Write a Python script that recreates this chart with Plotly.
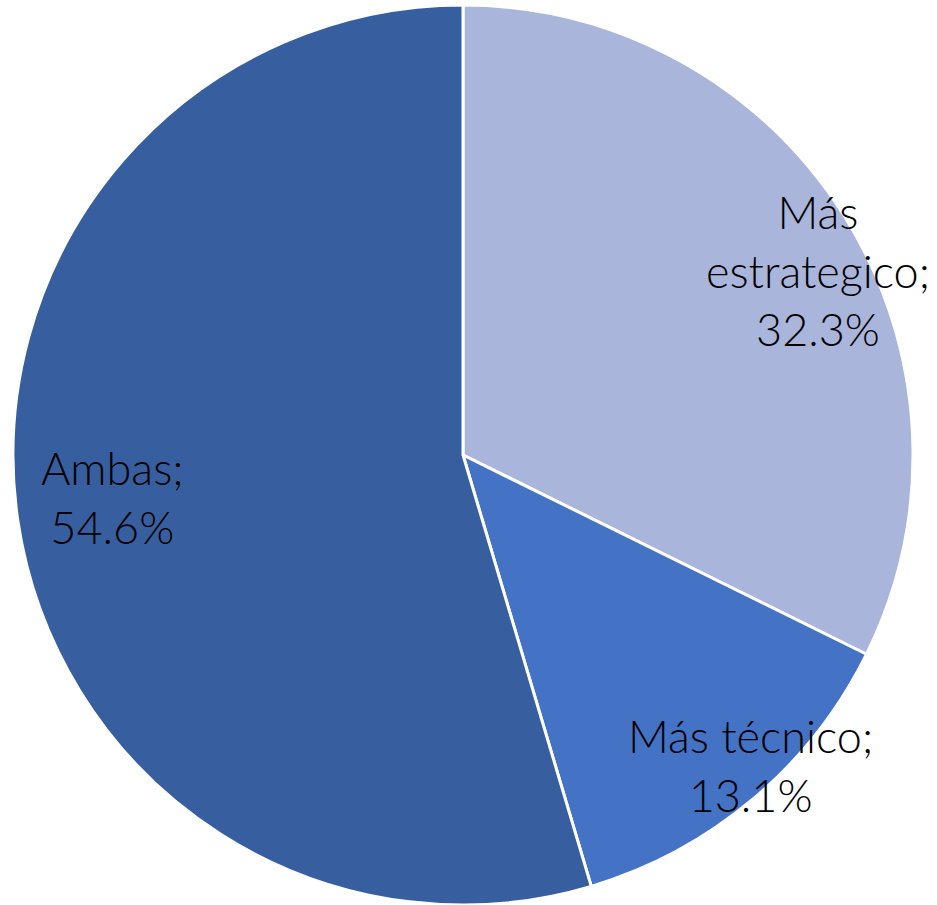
import plotly.graph_objects as go

categories = ["Más estrategico", "Más técnico", "Ambas"]
values = [32.3, 13.1, 54.6]
colors = ["#A9B5DA", "#4472C4", "#375F9F"]

W, H = 937, 905
# label anchor pixel positions (centre of text block)
label_pos = [(818, 270), (750, 765), (112, 497)]

fig = go.Figure(go.Pie(
    labels=categories,
    values=values,
    sort=False,
    direction="clockwise",
    rotation=0,
    marker=dict(colors=colors, line=dict(color="white", width=3)),
    textinfo="none",
    hoverinfo="label+percent",
    showlegend=False,
    domain=dict(x=[13 / W, 913 / W], y=[0, 1 - 5 / H]),
))

texts = ["Más<br>estrategico;<br>32.3%", "Más técnico;<br>13.1%", "Ambas;<br>54.6%"]
for t, (px, py) in zip(texts, label_pos):
    fig.add_annotation(
        x=px / W, y=1 - py / H, xref="paper", yref="paper",
        text=t, showarrow=False, align="center",
        xanchor="center", yanchor="middle",
        font=dict(family="Lato", size=45, color="#000000", weight=300),
    )

fig.update_layout(
    width=W, height=H,
    margin=dict(l=0, r=0, t=0, b=0),
    paper_bgcolor="white",
    plot_bgcolor="white",
)

fig.write_html(
    "out.html",
    config={"displayModeBar": False},
    post_script="document.body.style.margin='0';document.body.style.padding='0';",
)
